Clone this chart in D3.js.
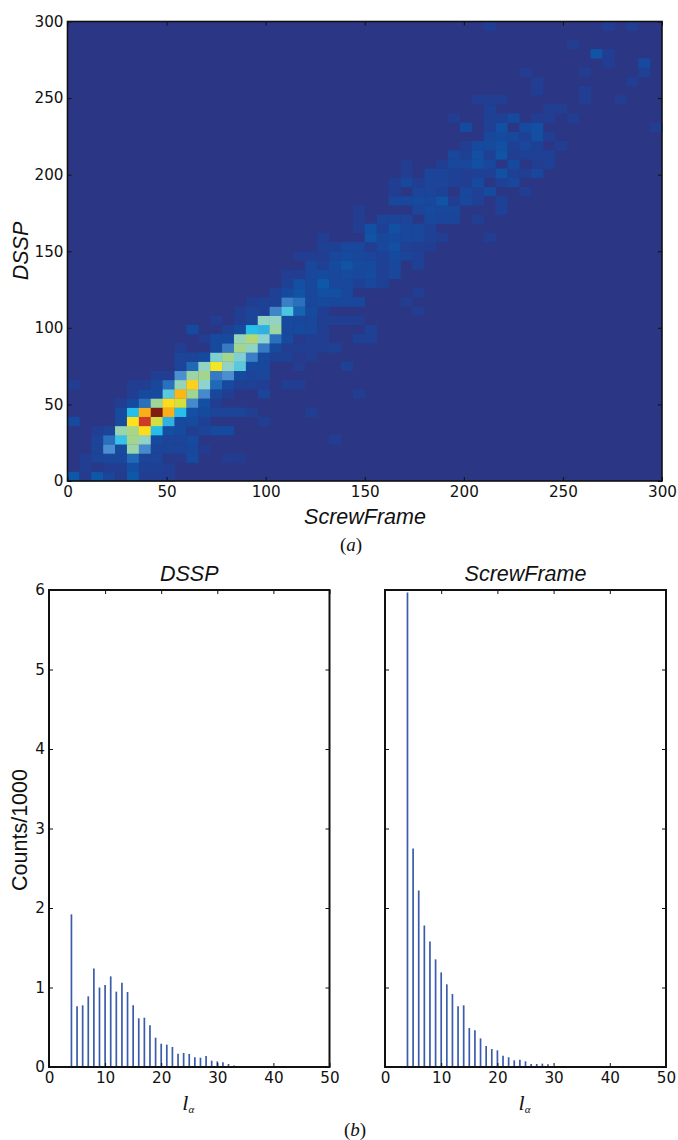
<!DOCTYPE html>
<html>
<head>
<meta charset="utf-8">
<script src="https://cdn.jsdelivr.net/npm/d3@7"></script>
<style>
  body { margin: 0; background: #fff; }
  text { fill: #111; }
  .tick-label { font-family: "DejaVu Sans"; font-size: 15.2px; }
  .axis-title { font-family: "Liberation Sans"; font-size: 21.5px; }
  .caption { font-family: "Liberation Serif"; font-size: 19px; }
</style>
</head>
<body>
<svg id="chart" width="678" height="1140"></svg>
<script>
// each entry: row, first column, counts along the row (bins are 6 wide)
const heatRows = [
  [0, 0, [15, 5, 15, 10, 5, 15, 8, 8, 8]],
  [1, 1, [8, 3, 7, 8, 13, 9, 9, 8]],
  [2, 1, [8, 10, 11, 11, 20, 10, 10, 3, 4, 12, 0, 0, 6, 6]],
  [3, 2, [10, 28, 12, 44, 27, 10, 10, 10, 11, 6]],
  [4, 2, [10, 22, 36, 47, 42, 12, 10, 10, 12, 0, 0, 0, 0, 0, 0, 0, 0, 0, 0, 0, 8]],
  [5, 2, [8, 10, 44, 48, 66, 35, 13, 12, 8, 10, 12, 12]],
  [6, 0, [12, 0, 0, 0, 12, 65, 88, 56, 33, 12, 12, 9, 0, 0, 0, 0, 8]],
  [7, 4, [12, 35, 74, 100, 74, 35, 13, 12, 10, 10, 10, 8, 0, 0, 0, 0, 8]],
  [8, 4, [8, 12, 22, 46, 66, 57, 27, 13, 8]],
  [9, 5, [8, 12, 12, 38, 72, 47, 27, 11, 8, 0, 0, 10, 0, 0, 0, 0, 0, 0, 0, 8]],
  [10, 0, [8, 0, 0, 0, 0, 8, 8, 11, 22, 43, 68, 41, 20, 12, 9, 9, 8, 0, 8, 8]],
  [11, 7, [8, 8, 28, 45, 47, 24, 28, 12, 10, 11]],
  [12, 9, [10, 20, 42, 62, 42, 38, 12, 11, 0, 0, 7, 0, 0, 0, 9]],
  [13, 9, [10, 10, 12, 40, 47, 40, 25, 12, 9, 9, 4, 7]],
  [14, 9, [8, 0, 0, 12, 24, 47, 42, 24, 12, 8, 8, 8, 8, 9]],
  [15, 11, [7, 12, 12, 43, 50, 41, 22, 12, 4, 8, 8, 0, 0, 9, 9]],
  [16, 10, [12, 0, 0, 9, 12, 35, 33, 45, 11, 12, 11, 8, 0, 0, 0, 9]],
  [17, 12, [7, 0, 8, 10, 42, 42, 12, 11, 11, 8, 8, 8, 8]],
  [18, 14, [8, 10, 9, 26, 37, 18, 12, 8, 0, 0, 0, 0, 0, 0, 0, 7]],
  [19, 15, [8, 9, 9, 25, 22, 11, 12, 11, 11, 11, 0, 0, 0, 7]],
  [20, 17, [9, 12, 14, 11, 13, 13, 11, 0, 0, 0, 0, 0, 8]],
  [21, 18, [9, 13, 11, 15, 11, 11, 9, 11, 9]],
  [22, 18, [8, 8, 11, 12, 11, 12, 11, 12, 9, 11]],
  [23, 20, [11, 9, 12, 14, 12, 12, 9, 11, 0, 9]],
  [24, 19, [8, 8, 8, 11, 12, 11, 10, 9, 12, 10, 9]],
  [25, 21, [9, 9, 11, 11, 7, 11, 13, 9, 8, 8]],
  [26, 21, [8, 0, 0, 0, 14, 11, 12, 11, 11, 9, 8, 0, 0, 0, 8]],
  [27, 24, [7, 13, 9, 13, 11, 11, 9]],
  [28, 24, [7, 0, 10, 10, 10, 0, 11, 10, 10, 0, 8]],
  [29, 24, [7, 0, 0, 0, 0, 10, 12, 11, 11, 0, 0, 0, 9]],
  [30, 27, [11, 11, 12, 11, 14, 8, 11, 9, 0, 9]],
  [31, 27, [8, 0, 10, 10, 9, 0, 11, 9, 12, 0, 0, 8]],
  [32, 27, [8, 11, 8, 10, 10, 9, 8, 12, 0, 9, 11]],
  [33, 28, [7, 0, 10, 10, 9, 8, 9, 9, 13, 9, 8, 11]],
  [34, 28, [7, 0, 0, 8, 11, 11, 13, 11, 0, 12, 0, 7, 9]],
  [35, 32, [11, 9, 13, 9, 14, 8, 9, 9, 9]],
  [36, 33, [8, 12, 12, 13, 9, 11, 9, 0, 8]],
  [37, 35, [11, 12, 11, 9, 13, 8]],
  [38, 33, [12, 0, 9, 13, 0, 12, 13, 0, 0, 0, 0, 0, 0, 0, 0, 0, 8]],
  [39, 32, [7, 0, 0, 9, 9, 12, 0, 8, 8, 0, 8]],
  [40, 35, [9, 0, 0, 0, 0, 8, 8]],
  [41, 34, [8, 8, 8, 0, 0, 0, 0, 0, 0, 8, 0, 0, 7]],
  [42, 39, [8, 0, 0, 0, 8]],
  [43, 39, [8, 0, 0, 0, 0, 0, 0, 0, 8]],
  [44, 38, [7, 0, 0, 0, 0, 7, 0, 0, 0, 0, 9]],
  [45, 45, [8, 0, 0, 12]],
  [46, 44, [14, 8]],
  [47, 42, [7]],
  [49, 35, [8, 0, 0, 0, 0, 0, 0, 0, 0, 0, 8, 0, 8]]
];

const binSize = 6;
const heatTicks = [0, 50, 100, 150, 200, 250, 300];
const lengthTicks = [0, 10, 20, 30, 40, 50];
const countTicks = [0, 1, 2, 3, 4, 5, 6];

const lengths = d3.range(4, 41);
const dsspCounts = [1.92, 0.763, 0.776, 0.889, 1.24, 1.0, 1.03, 1.14, 0.948, 1.06, 0.943, 0.776,
  0.612, 0.62, 0.524, 0.369, 0.293, 0.281, 0.252, 0.168, 0.176, 0.164, 0.122, 0.117, 0.138,
  0.08, 0.071, 0.059, 0.038, 0.02, 0.013, 0.012, 0.008, 0.012, 0.004, 0.004, 0.002];
const screwCounts = [5.97, 2.75, 2.22, 1.78, 1.58, 1.354, 1.19, 1.04, 0.918, 0.763, 0.776, 0.49,
  0.461, 0.36, 0.264, 0.226, 0.21, 0.143, 0.122, 0.084, 0.092, 0.071, 0.038, 0.038, 0.042,
  0.034, 0.01, 0.006, 0.004, 0, 0, 0, 0, 0, 0, 0, 0];

// jet as it came out of the print colour conversion
const heatColor = d3.scaleLinear()
  .domain([0, 8, 12, 16, 22, 28, 35, 41, 47, 57, 64, 72, 80, 88, 100])
  .range(["#2b3684", "#223e92", "#164a9e", "#0b5cac", "#2a70bc", "#4b8fd0", "#27bfe9", "#8fd3cf",
    "#a3d58e", "#d6e03c", "#fde81e", "#fbb717", "#f6921e", "#cf3a26", "#7f1d10"])
  .clamp(true);

const svg = d3.select("#chart");

function frameAxes(g, x, y, xTicks, yTicks, showY, weight) {
  const [x0, x1] = x.range();
  const [y0, y1] = y.range();

  // ticks point inward on all four sides
  g.append("g").attr("transform", `translate(0,${y0})`)
    .call(d3.axisBottom(x).tickValues(xTicks).tickSize(-4).tickSizeOuter(0).tickPadding(5))
    .call(a => a.select(".domain").remove());
  g.append("g").attr("transform", `translate(0,${y1})`)
    .call(d3.axisTop(x).tickValues(xTicks).tickSize(-4).tickSizeOuter(0).tickFormat(""))
    .call(a => a.select(".domain").remove());
  g.append("g").attr("transform", `translate(${x0},0)`)
    .call(d3.axisLeft(y).tickValues(yTicks).tickSize(-4).tickSizeOuter(0).tickPadding(4)
      .tickFormat(showY ? d3.format("d") : ""))
    .call(a => a.select(".domain").remove());
  g.append("g").attr("transform", `translate(${x1},0)`)
    .call(d3.axisRight(y).tickValues(yTicks).tickSize(-4).tickSizeOuter(0).tickFormat(""))
    .call(a => a.select(".domain").remove());

  g.selectAll(".tick line").attr("stroke", "#111");
  g.selectAll(".tick text").attr("class", "tick-label").attr("fill", "#111");

  g.append("rect")
    .attr("x", x0).attr("y", y1)
    .attr("width", x1 - x0).attr("height", y0 - y1)
    .attr("fill", "none").attr("stroke", "#111").attr("stroke-width", weight);
}

// (a) the 2d histogram
const heatX = d3.scaleLinear().domain([0, 300]).range([67.5, 662]);
const heatY = d3.scaleLinear().domain([0, 300]).range([481, 21.5]);
const heat = svg.append("g");

heat.append("rect")
  .attr("x", heatX(0)).attr("y", heatY(300))
  .attr("width", heatX(300) - heatX(0)).attr("height", heatY(0) - heatY(300))
  .attr("fill", heatColor(0));

heatRows.forEach(([row, start, counts]) => {
  heat.append("g").selectAll("rect")
    .data(counts.map((v, i) => ({ row, col: start + i, v })).filter(d => d.v > 0))
    .enter().append("rect")
    .attr("x", d => heatX(d.col * binSize))
    .attr("y", d => heatY((d.row + 1) * binSize))
    .attr("width", heatX(binSize) - heatX(0) + 0.3)
    .attr("height", heatY(0) - heatY(binSize) + 0.3)
    .attr("fill", d => heatColor(d.v));
});
frameAxes(heat, heatX, heatY, heatTicks, heatTicks, true, 1.6);

svg.append("text").attr("class", "axis-title")
  .attr("x", 365).attr("y", 524).attr("text-anchor", "middle")
  .style("font-style", "italic").text("ScrewFrame");
svg.append("text").attr("class", "axis-title")
  .attr("transform", "translate(28,251) rotate(-90)").attr("text-anchor", "middle")
  .style("font-style", "italic").text("DSSP");

// (b) the two length histograms
function lengthPanel(left, right, counts, title, showY) {
  const x = d3.scaleLinear().domain([0, 50]).range([left, right]);
  const y = d3.scaleLinear().domain([0, 6]).range([1067, 590]);
  const g = svg.append("g");

  g.append("g").selectAll("line")
    .data(lengths.map((l, i) => ({ l, c: counts[i] })).filter(d => d.c > 0))
    .enter().append("line")
    .attr("x1", d => x(d.l)).attr("x2", d => x(d.l))
    .attr("y1", y(0)).attr("y2", d => y(d.c))
    .attr("stroke", "#3a5cab").attr("stroke-width", 1.7);

  frameAxes(g, x, y, lengthTicks, countTicks, showY, 2);

  svg.append("text").attr("class", "axis-title")
    .attr("x", (left + right) / 2).attr("y", 581).attr("text-anchor", "middle")
    .style("font-style", "italic").text(title);

  const label = svg.append("text").attr("class", "caption")
    .attr("x", (left + right) / 2 - 7).attr("y", 1110)
    .style("font-style", "italic").style("font-size", "22px");
  label.append("tspan").text("l");
  label.append("tspan").attr("dy", 3).style("font-size", "11px").text("α");
}
lengthPanel(49, 329.5, dsspCounts, "DSSP", true);
lengthPanel(385, 666, screwCounts, "ScrewFrame", false);

svg.append("text").attr("class", "axis-title")
  .attr("transform", "translate(27,830) rotate(-90)").attr("text-anchor", "middle")
  .text("Counts/1000");

// panel captions
function caption(x, y, letter) {
  const t = svg.append("text").attr("class", "caption").attr("x", x).attr("y", y)
    .attr("text-anchor", "middle");
  t.append("tspan").text("(");
  t.append("tspan").style("font-style", "italic").text(letter);
  t.append("tspan").text(")");
}
caption(351, 551, "a");
caption(355, 1136, "b");
</script>
</body>
</html>
